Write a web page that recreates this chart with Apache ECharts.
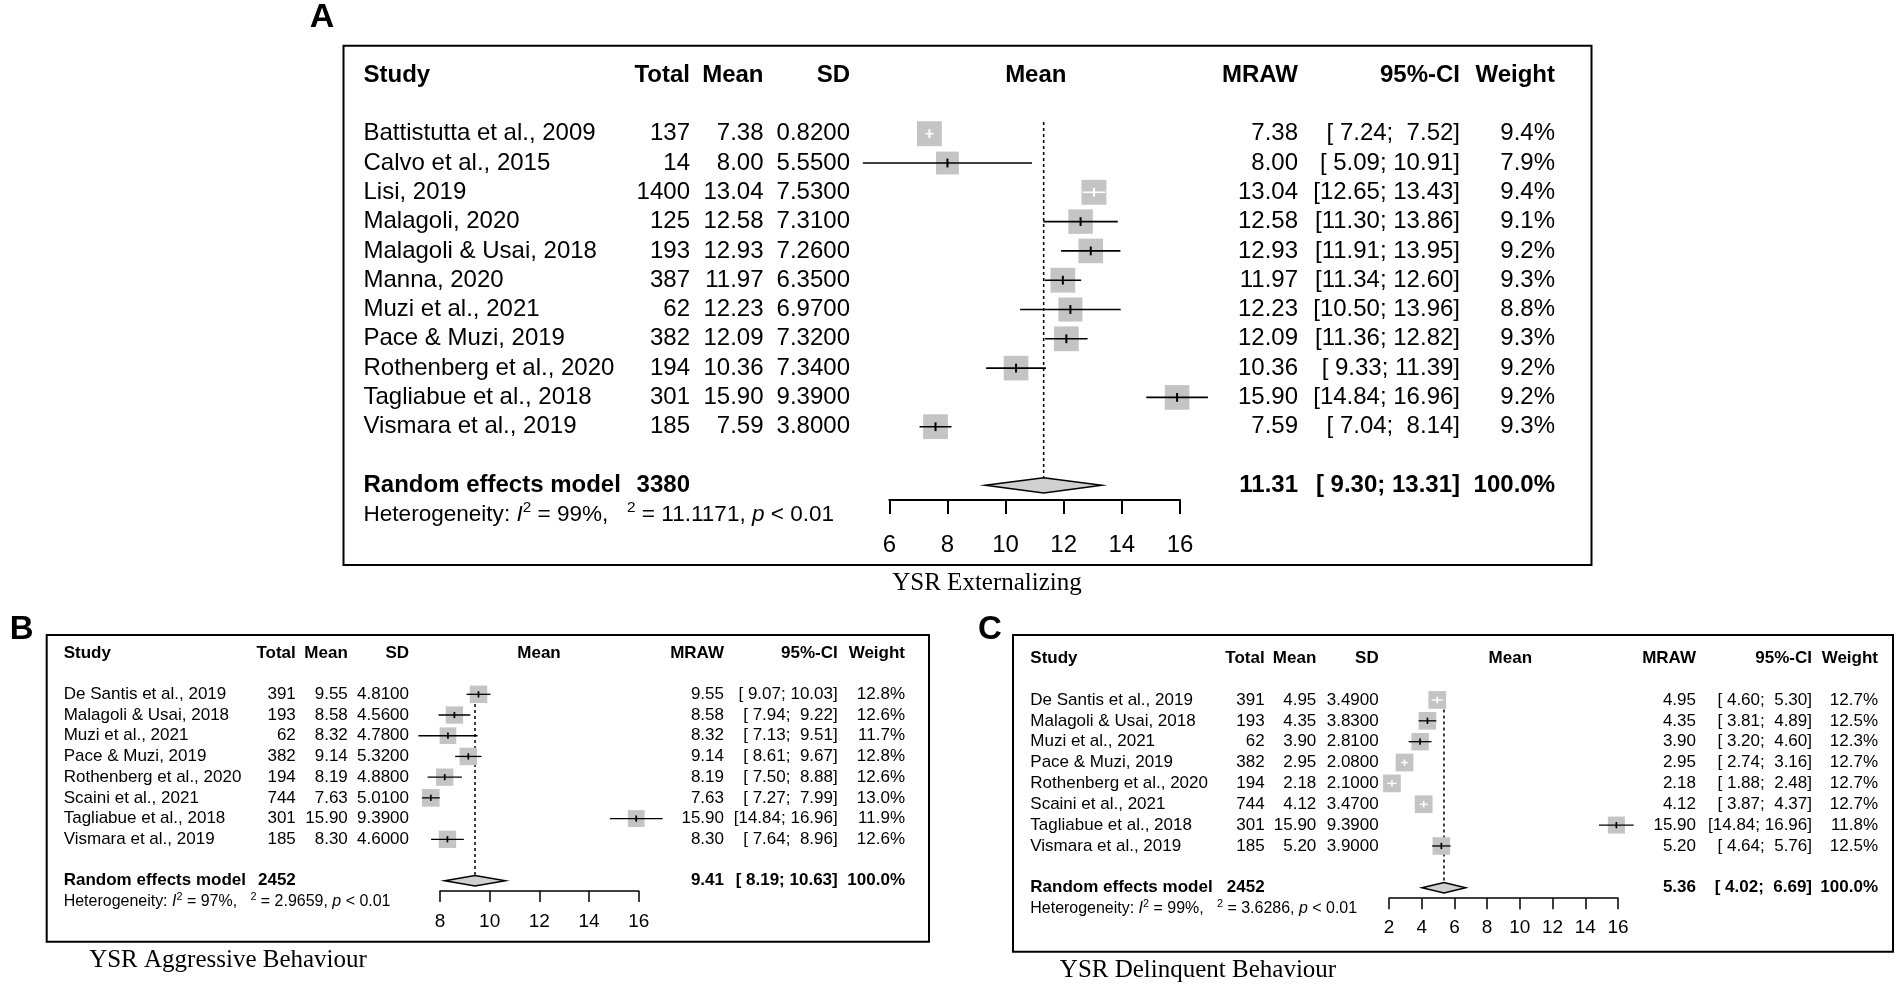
<!DOCTYPE html>
<html>
<head>
<meta charset="utf-8">
<script src="https://cdn.jsdelivr.net/npm/echarts@6/dist/echarts.min.js"></script>
<style>html,body{margin:0;padding:0;background:#fff}#c{width:1902px;height:989px}</style>
</head>
<body>
<div id="c"></div>
<script>
// ---------- Panel A: YSR Externalizing ----------
const studiesA = ['Battistutta et al., 2009','Calvo et al., 2015','Lisi, 2019','Malagoli, 2020','Malagoli & Usai, 2018','Manna, 2020','Muzi et al., 2021','Pace & Muzi, 2019','Rothenberg et al., 2020','Tagliabue et al., 2018','Vismara et al., 2019'];
const totalA  = [137, 14, 1400, 125, 193, 387, 62, 382, 194, 301, 185];
const meanA   = [7.38, 8.00, 13.04, 12.58, 12.93, 11.97, 12.23, 12.09, 10.36, 15.90, 7.59];
const sdA     = [0.82, 5.55, 7.53, 7.31, 7.26, 6.35, 6.97, 7.32, 7.34, 9.39, 3.80];
const lowerA  = [7.24, 5.09, 12.65, 11.30, 11.91, 11.34, 10.50, 11.36, 9.33, 14.84, 7.04];
const upperA  = [7.52, 10.91, 13.43, 13.86, 13.95, 12.60, 13.96, 12.82, 11.39, 16.96, 8.14];
const weightA = [9.4, 7.9, 9.4, 9.1, 9.2, 9.3, 8.8, 9.3, 9.2, 9.2, 9.3];
const reA     = {total: 3380, est: 11.31, lower: 9.30, upper: 13.31};
const hetA    = {i2: 99, tau2: '11.1171', p: '0.01'};
const ticksA  = {min: 6, max: 16, interval: 2};
const titleA  = 'YSR Externalizing';

// ---------- Panel B: YSR Aggressive Behaviour ----------
const studiesB = ['De Santis et al., 2019','Malagoli & Usai, 2018','Muzi et al., 2021','Pace & Muzi, 2019','Rothenberg et al., 2020','Scaini et al., 2021','Tagliabue et al., 2018','Vismara et al., 2019'];
const totalB  = [391, 193, 62, 382, 194, 744, 301, 185];
const meanB   = [9.55, 8.58, 8.32, 9.14, 8.19, 7.63, 15.90, 8.30];
const sdB     = [4.81, 4.56, 4.78, 5.32, 4.88, 5.01, 9.39, 4.60];
const lowerB  = [9.07, 7.94, 7.13, 8.61, 7.50, 7.27, 14.84, 7.64];
const upperB  = [10.03, 9.22, 9.51, 9.67, 8.88, 7.99, 16.96, 8.96];
const weightB = [12.8, 12.6, 11.7, 12.8, 12.6, 13.0, 11.9, 12.6];
const reB     = {total: 2452, est: 9.41, lower: 8.19, upper: 10.63};
const hetB    = {i2: 97, tau2: '2.9659', p: '0.01'};
const ticksB  = {min: 8, max: 16, interval: 2};
const titleB  = 'YSR Aggressive Behaviour';

// ---------- Panel C: YSR Delinquent Behaviour ----------
const studiesC = ['De Santis et al., 2019','Malagoli & Usai, 2018','Muzi et al., 2021','Pace & Muzi, 2019','Rothenberg et al., 2020','Scaini et al., 2021','Tagliabue et al., 2018','Vismara et al., 2019'];
const totalC  = [391, 193, 62, 382, 194, 744, 301, 185];
const meanC   = [4.95, 4.35, 3.90, 2.95, 2.18, 4.12, 15.90, 5.20];
const sdC     = [3.49, 3.83, 2.81, 2.08, 2.10, 3.47, 9.39, 3.90];
const lowerC  = [4.60, 3.81, 3.20, 2.74, 1.88, 3.87, 14.84, 4.64];
const upperC  = [5.30, 4.89, 4.60, 3.16, 2.48, 4.37, 16.96, 5.76];
const weightC = [12.7, 12.5, 12.3, 12.7, 12.7, 12.7, 11.8, 12.5];
const reC     = {total: 2452, est: 5.36, lower: 4.02, upper: 6.69};
const hetC    = {i2: 99, tau2: '3.6286', p: '0.01'};
const ticksC  = {min: 2, max: 16, interval: 2};
const titleC  = 'YSR Delinquent Behaviour';

// ---------- layout (pixels) ----------
const FONT = "'Liberation Sans', Arial, Helvetica, sans-serif";
const SERIF = "'Liberation Serif', 'Times New Roman', Times, serif";

const panels = [
  {studies: studiesA, total: totalA, mean: meanA, sd: sdA, lower: lowerA, upper: upperA, weight: weightA, re: reA, het: hetA, ticks: ticksA,
   L: {left: 889.3, right: 1180, rowTop: 104.4, rowH: 29.3, yMax: 13.5, font: 24, tickFont: 24, tickLen: 14, labelMargin: 33, lw: 1.6, axisW: 2, diamondH: 0.52,
       cols: {study: 363.5, total: 690, mean: 763.5, sd: 850, fc: 1035.8, mraw: 1298, ci: 1460, w: 1555}}},
  {studies: studiesB, total: totalB, mean: meanB, sd: sdB, lower: lowerB, upper: upperB, weight: weightB, re: reB, het: hetB, ticks: ticksB,
   L: {left: 440, right: 638.7, rowTop: 673.6, rowH: 20.71, yMax: 10.5, font: 17, tickFont: 19, tickLen: 11, labelMargin: 21.5, lw: 1.3, axisW: 1.5, diamondH: 0.5,
       cols: {study: 63.7, total: 295.8, mean: 347.8, sd: 409, fc: 539, mraw: 724, ci: 837.7, w: 905}}},
  {studies: studiesC, total: totalC, mean: meanC, sd: sdC, lower: lowerC, upper: upperC, weight: weightC, re: reC, het: hetC, ticks: ticksC,
   L: {left: 1389, right: 1618, rowTop: 679.1, rowH: 20.86, yMax: 10.5, font: 17, tickFont: 19, tickLen: 11, labelMargin: 20.5, lw: 1.3, axisW: 1.5, diamondH: 0.5,
       cols: {study: 1030.3, total: 1264.6, mean: 1316.3, sd: 1378.7, fc: 1510.3, mraw: 1696, ci: 1812, w: 1878}}}
];

function padL(s, n) { s = String(s); while (s.length < n) s = ' ' + s; return s; }
function ciStr(lo, hi) { return '[' + padL(lo.toFixed(2), 5) + '; ' + padL(hi.toFixed(2), 5) + ']'; }

function forestRender(P) {
  const wmax = Math.max.apply(null, P.weight);
  return function (params, api) {
    const m = api.value(0), r = api.value(1), lo = api.value(2), hi = api.value(3), w = api.value(4);
    const c = api.coord([m, r]);
    const a = api.coord([lo, r]), b = api.coord([hi, r]);
    const rowH = Math.abs(api.size([0, 1])[1]);
    const s = 0.85 * rowH * Math.sqrt(w / wmax);
    const inside = (c[0] - a[0]) < s / 2 && (b[0] - c[0]) < s / 2;
    const col = inside ? '#ffffff' : '#000000';
    const th = 0.3 * rowH;
    return {type: 'group', children: [
      {type: 'rect', shape: {x: c[0] - s / 2, y: c[1] - s / 2, width: s, height: s}, style: {fill: '#c4c4c4'}},
      {type: 'line', shape: {x1: a[0], y1: c[1], x2: b[0], y2: c[1]}, style: {stroke: col, lineWidth: P.L.lw}},
      {type: 'line', shape: {x1: c[0], y1: c[1] - th / 2, x2: c[0], y2: c[1] + th / 2}, style: {stroke: col, lineWidth: P.L.lw + 0.4}}
    ]};
  };
}

function diamondRender(P) {
  return function (params, api) {
    const e = api.value(0), r = api.value(1), lo = api.value(2), hi = api.value(3);
    const rowH = Math.abs(api.size([0, 1])[1]);
    const h = P.L.diamondH * rowH / 2;
    const pc = api.coord([e, r]), pl = api.coord([lo, r]), ph = api.coord([hi, r]);
    return {type: 'polygon', shape: {points: [[pl[0], pc[1]], [pc[0], pc[1] - h], [ph[0], pc[1]], [pc[0], pc[1] + h]]},
            style: {fill: '#d0d0d0', stroke: '#000', lineWidth: 1.5}};
  };
}

function refRender(P) {
  return function (params, api) {
    const p1 = api.coord([api.value(0), api.value(1)]);
    const p2 = api.coord([api.value(0), api.value(2)]);
    return {type: 'line', shape: {x1: p1[0], y1: p1[1], x2: p2[0], y2: p2[1]},
            style: {stroke: '#000', lineWidth: 1.5, lineDash: [3, 3]}};
  };
}

function tableRender(P) {
  const n = P.studies.length;
  const C = P.L.cols, F = P.L.font;
  return function (params, api) {
    const i = params.dataIndex;
    const y = api.coord([P.ticks.min, api.value(1)])[1];
    const t = (text, x, align, bold) => ({type: 'text', x: x, y: y,
      style: {text: String(text), align: align, verticalAlign: 'middle', fontSize: F, fontWeight: bold ? 'bold' : 'normal', fontFamily: FONT, fill: '#000'}});
    let ch;
    if (i === 0) {
      ch = [t('Study', C.study, 'left', 1), t('Total', C.total, 'right', 1), t('Mean', C.mean, 'right', 1), t('SD', C.sd, 'right', 1),
            t('Mean', C.fc, 'center', 1), t('MRAW', C.mraw, 'right', 1), t('95%-CI', C.ci, 'right', 1), t('Weight', C.w, 'right', 1)];
    } else if (i <= n) {
      const k = i - 1;
      ch = [t(P.studies[k], C.study, 'left'), t(P.total[k], C.total, 'right'), t(P.mean[k].toFixed(2), C.mean, 'right'),
            t(P.sd[k].toFixed(4), C.sd, 'right'), t(P.mean[k].toFixed(2), C.mraw, 'right'),
            t(ciStr(P.lower[k], P.upper[k]), C.ci, 'right'), t(P.weight[k].toFixed(1) + '%', C.w, 'right')];
    } else if (i === n + 1) {
      ch = [t('Random effects model', C.study, 'left', 1), t(P.re.total, C.total, 'right', 1), t(P.re.est.toFixed(2), C.mraw, 'right', 1),
            t(ciStr(P.re.lower, P.re.upper), C.ci, 'right', 1), t('100.0%', C.w, 'right', 1)];
    } else {
      const H = P.het, G = F * 0.94;
      const txt = '{n|Heterogeneity: }{i|I}{s|2}{n| = ' + H.i2 + '%,   }{s|2}{n| = ' + H.tau2 + ', }{i|p}{n| < ' + H.p + '}';
      ch = [{type: 'text', x: C.study, y: y, style: {text: txt, align: 'left', verticalAlign: 'middle', fontFamily: FONT, fill: '#000',
        rich: {
          n: {fontSize: G, lineHeight: G * 1.25, fontFamily: FONT, fill: '#000'},
          i: {fontSize: G, lineHeight: G * 1.25, fontFamily: FONT, fontStyle: 'italic', fill: '#000'},
          s: {fontSize: G * 0.68, lineHeight: G * 0.68, fontFamily: FONT, verticalAlign: 'top', fill: '#000'}
        }}}];
    }
    return {type: 'group', children: ch};
  };
}

const grid = [], xAxis = [], yAxis = [], series = [];
panels.forEach((P, gi) => {
  const L = P.L, n = P.studies.length;
  grid.push({left: L.left, top: L.rowTop, width: L.right - L.left, height: L.rowH * L.yMax, containLabel: false, outerBoundsMode: 'none'});
  xAxis.push({type: 'value', gridIndex: gi, min: P.ticks.min, max: P.ticks.max, interval: P.ticks.interval, position: 'bottom',
    axisLine: {show: true, onZero: false, lineStyle: {color: '#000', width: L.axisW}},
    axisTick: {show: true, inside: false, length: L.tickLen, lineStyle: {color: '#000', width: L.axisW}},
    axisLabel: {show: true, margin: L.labelMargin, fontSize: L.tickFont, fontFamily: FONT, color: '#000'},
    splitLine: {show: false}});
  yAxis.push({type: 'value', gridIndex: gi, min: 0, max: L.yMax, inverse: true, show: false, splitLine: {show: false}});
  const reRow = n + 2;
  series.push({type: 'custom', xAxisIndex: gi, yAxisIndex: gi, clip: false, silent: true, z: 1,
    renderItem: refRender(P), data: [[P.re.est, 0.6, reRow]]});
  series.push({type: 'custom', xAxisIndex: gi, yAxisIndex: gi, clip: false, silent: true, z: 2,
    renderItem: forestRender(P), data: P.studies.map((s, k) => [P.mean[k], k + 1, P.lower[k], P.upper[k], P.weight[k]])});
  series.push({type: 'custom', xAxisIndex: gi, yAxisIndex: gi, clip: false, silent: true, z: 3,
    renderItem: diamondRender(P), data: [[P.re.est, reRow, P.re.lower, P.re.upper]]});
  const rows = [[P.ticks.min, -1]];
  P.studies.forEach((s, k) => rows.push([P.ticks.min, k + 1]));
  rows.push([P.ticks.min, reRow]);
  rows.push([P.ticks.min, reRow + 1]);
  series.push({type: 'custom', xAxisIndex: gi, yAxisIndex: gi, clip: false, silent: true, z: 4,
    renderItem: tableRender(P), data: rows});
});

const graphic = [
  {type: 'rect', shape: {x: 343.5, y: 45.7, width: 1248, height: 519.3}, style: {fill: 'none', stroke: '#000', lineWidth: 2}},
  {type: 'rect', shape: {x: 46.7, y: 635, width: 882.3, height: 306.7}, style: {fill: 'none', stroke: '#000', lineWidth: 2}},
  {type: 'rect', shape: {x: 1013, y: 635, width: 880, height: 316.7}, style: {fill: 'none', stroke: '#000', lineWidth: 2}},
  {type: 'text', x: 322, y: 18, style: {text: 'A', align: 'center', verticalAlign: 'middle', fontSize: 34, fontWeight: 'bold', fontFamily: FONT, fill: '#000'}},
  {type: 'text', x: 21.7, y: 630, style: {text: 'B', align: 'center', verticalAlign: 'middle', fontSize: 33, fontWeight: 'bold', fontFamily: FONT, fill: '#000'}},
  {type: 'text', x: 990, y: 630, style: {text: 'C', align: 'center', verticalAlign: 'middle', fontSize: 33, fontWeight: 'bold', fontFamily: FONT, fill: '#000'}},
  {type: 'text', x: 987, y: 583, style: {text: titleA, align: 'center', verticalAlign: 'middle', fontSize: 25, fontFamily: SERIF, fill: '#000'}},
  {type: 'text', x: 228, y: 960, style: {text: titleB, align: 'center', verticalAlign: 'middle', fontSize: 25, fontFamily: SERIF, fill: '#000'}},
  {type: 'text', x: 1198, y: 970, style: {text: titleC, align: 'center', verticalAlign: 'middle', fontSize: 25, fontFamily: SERIF, fill: '#000'}}
];

const chart = echarts.init(document.getElementById('c'), null, {renderer: 'canvas', width: 1902, height: 989});
chart.setOption({backgroundColor: '#ffffff', animation: false, grid, xAxis, yAxis, series, graphic});
</script>
</body>
</html>
